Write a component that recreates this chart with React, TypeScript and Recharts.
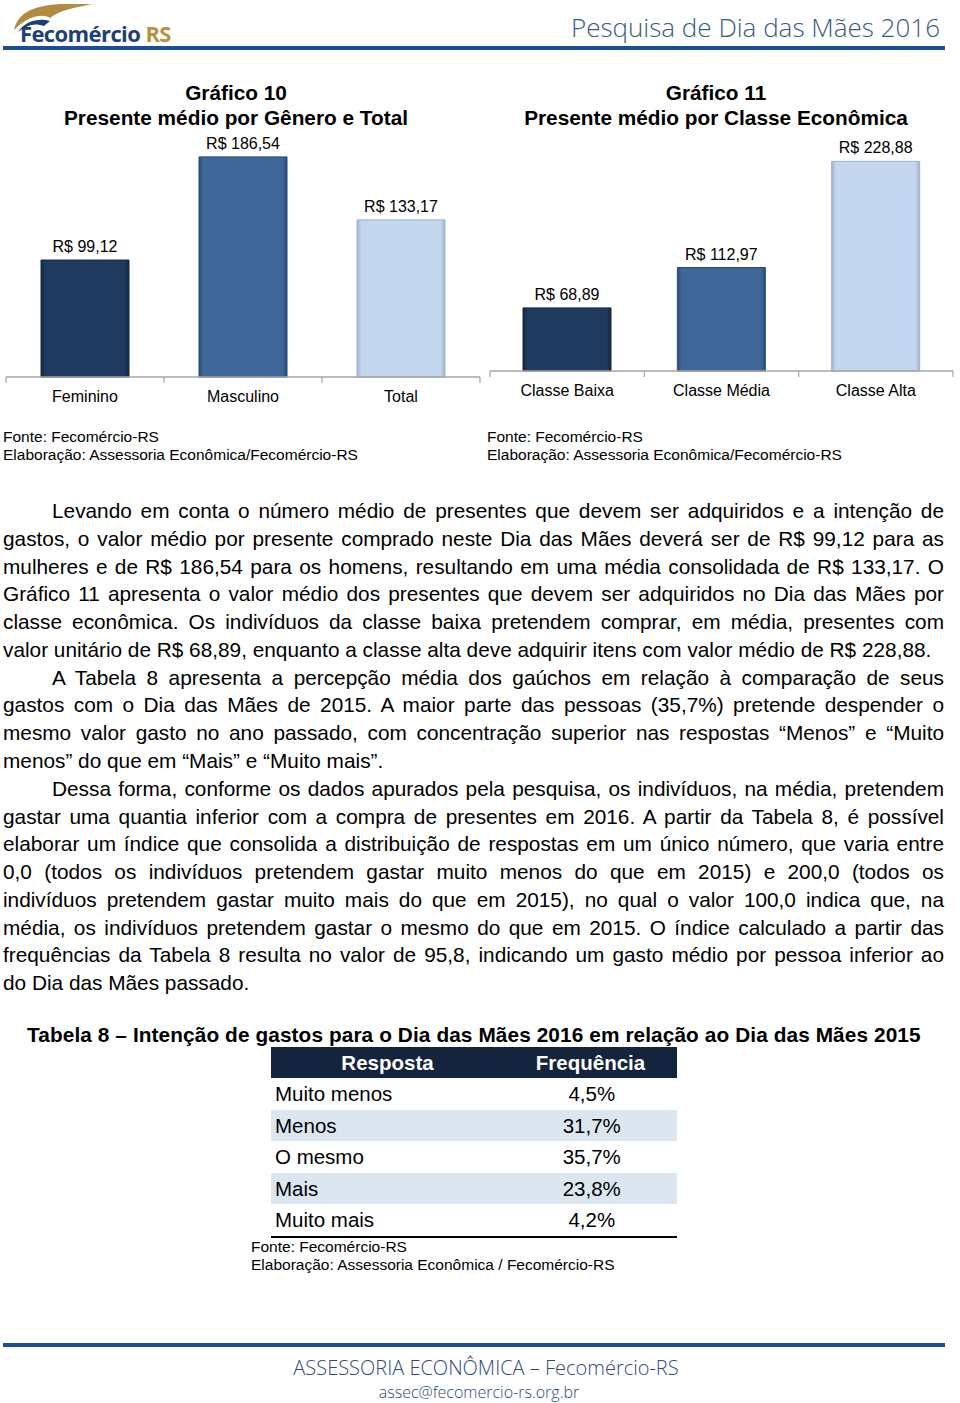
import React from 'react';
import { BarChart, Bar, XAxis, YAxis, Cell, LabelList } from 'recharts';

// Gráfico 10
const generoCategorias = ['Feminino', 'Masculino', 'Total'];
const generoValores = [99.12, 186.54, 133.17];

// Gráfico 11
const classeCategorias = ['Classe Baixa', 'Classe Média', 'Classe Alta'];
const classeValores = [68.89, 112.97, 228.88];

// Tabela 8
const tabelaRespostas = ['Muito menos', 'Menos', 'O mesmo', 'Mais', 'Muito mais'];
const tabelaFrequencias = [4.5, 31.7, 35.7, 23.8, 4.2];

const BAR_COLORS = ['#1f3a5f', '#3e6797', '#c3d6ee'];
const BAR_EDGES = ['#14283f', '#2b4b71', '#9fb3cc'];

const SANS = "'Liberation Sans', Arial, Helvetica, sans-serif";

const paragraphLines = [
  'Levando em conta o número médio de presentes que devem ser adquiridos e a intenção de',
  'gastos, o valor médio por presente comprado neste Dia das Mães deverá ser de R$ 99,12 para as',
  'mulheres e de R$ 186,54 para os homens, resultando em uma média consolidada de R$ 133,17. O',
  'Gráfico 11 apresenta o valor médio dos presentes que devem ser adquiridos no Dia das Mães por',
  'classe econômica. Os indivíduos da classe baixa pretendem comprar, em média, presentes com',
  'valor unitário de R$ 68,89, enquanto a classe alta deve adquirir itens com valor médio de R$ 228,88.',
  'A Tabela 8 apresenta a percepção média dos gaúchos em relação à comparação de seus',
  'gastos com o Dia das Mães de 2015. A maior parte das pessoas (35,7%) pretende despender o',
  'mesmo valor gasto no ano passado, com concentração superior nas respostas “Menos” e “Muito',
  'menos” do que em “Mais” e “Muito mais”.',
  'Dessa forma, conforme os dados apurados pela pesquisa, os indivíduos, na média, pretendem',
  'gastar uma quantia inferior com a compra de presentes em 2016. A partir da Tabela 8, é possível',
  'elaborar um índice que consolida a distribuição de respostas em um único número, que varia entre',
  '0,0 (todos os indivíduos pretendem gastar muito menos do que em 2015) e 200,0 (todos os',
  'indivíduos pretendem gastar muito mais do que em 2015), no qual o valor 100,0 indica que, na',
  'média, os indivíduos pretendem gastar o mesmo do que em 2015. O índice calculado a partir das',
  'frequências da Tabela 8 resulta no valor de 95,8, indicando um gasto médio por pessoa inferior ao',
  'do Dia das Mães passado.',
];
const indentLines = [0, 6, 10];
const lastLines = [5, 9, 17];

const brl = (v: number) => 'R$ ' + v.toFixed(2).replace('.', ',');
const pct = (v: number) => v.toFixed(1).replace('.', ',') + '%';

function BandTick(props: any) {
  const { x, y, payload, index, band, count } = props;
  return (
    <g>
      <line x1={x - band / 2} y1={y} x2={x - band / 2} y2={y + 6} stroke="#a6a6a6" strokeWidth={1.2} />
      {index === count - 1 && (
        <line x1={x + band / 2} y1={y} x2={x + band / 2} y2={y + 6} stroke="#a6a6a6" strokeWidth={1.2} />
      )}
      <text x={x} y={y + 25} textAnchor="middle" fontSize={16} fontFamily={SANS} fill="#000">
        {payload.value}
      </text>
    </g>
  );
}

function BevelDefs({ id }: { id: string }) {
  return (
    <defs>
      {BAR_COLORS.map((c, i) => (
        <linearGradient key={i} id={`${id}-${i}`} x1="0" y1="0" x2="1" y2="0">
          <stop offset="0%" stopColor={BAR_EDGES[i]} />
          <stop offset="5%" stopColor={c} />
          <stop offset="95%" stopColor={c} />
          <stop offset="100%" stopColor={BAR_EDGES[i]} />
        </linearGradient>
      ))}
    </defs>
  );
}

function ValueChart({ id, categorias, valores, width, height, margin, max, band }: any) {
  const data = categorias.map((c: string, i: number) => ({ categoria: c, valor: valores[i] }));
  return (
    <BarChart width={width} height={height} data={data} margin={margin} barCategoryGap={0}>
      <BevelDefs id={id} />
      <XAxis
        dataKey="categoria"
        height={40}
        axisLine={{ stroke: '#a6a6a6', strokeWidth: 1.5 }}
        tickLine={false}
        tickSize={0}
        tickMargin={0}
        interval={0}
        tick={<BandTick band={band} count={categorias.length} />}
      />
      <YAxis hide domain={[0, max]} />
      <Bar dataKey="valor" barSize={88} isAnimationActive={false}>
        {data.map((_: any, i: number) => (
          <Cell key={i} fill={`url(#${id}-${i})`} stroke={BAR_EDGES[i]} strokeWidth={1} />
        ))}
        <LabelList
          dataKey="valor"
          position="top"
          offset={8}
          formatter={(v: any) => brl(Number(v))}
          style={{ fontSize: 16, fontFamily: SANS, fill: '#000' }}
        />
      </Bar>
    </BarChart>
  );
}

const abs = (left: number, top: number, extra: any = {}) => ({ position: 'absolute' as const, left, top, ...extra });

export default function App() {
  const lineH = 27.77;
  return (
    <div style={{ position: 'absolute', left: 0, top: 0, width: 960, height: 1403, background: '#fff', fontFamily: SANS, color: '#000', overflow: 'hidden' }}>
      {/* Cabeçalho */}
      <svg style={abs(4, 2)} width={90} height={30}>
        <path d="M10 28 C14 12 26 4 56 2 L88 2 C70 6 56 8 46 16 C40 12 26 12 10 28 Z" fill="#b08b40" />
        <path d="M14 30 C22 18 36 16 46 19 L40 24 C30 20 22 24 14 30 Z" fill="#1f3f74" />
      </svg>
      <div style={abs(20, 19, { fontSize: 22, fontWeight: 700, letterSpacing: -0.6, fontFamily: "'Open Sans', sans-serif", lineHeight: '28px' })}>
        <span style={{ color: '#1f3f74' }}>Fecomércio</span> <span style={{ color: '#b8913f' }}>RS</span>
      </div>
      <div style={abs(400, 10, { width: 540, textAlign: 'right', fontSize: 26, fontWeight: 300, fontFamily: "'Open Sans', sans-serif", color: '#3b5a82', lineHeight: '34px' })}>
        Pesquisa de Dia das Mães 2016
      </div>
      <div style={abs(3, 46, { width: 942, height: 4, background: '#1c4d9a' })} />

      {/* Títulos dos gráficos */}
      <div style={abs(0, 80, { width: 472, textAlign: 'center', fontSize: 20.8, fontWeight: 700, lineHeight: '25px' })}>
        Gráfico 10<br />Presente médio por Gênero e Total
      </div>
      <div style={abs(480, 80, { width: 472, textAlign: 'center', fontSize: 20.8, fontWeight: 700, lineHeight: '25px' })}>
        Gráfico 11<br />Presente médio por Classe Econômica
      </div>

      {/* Gráfico 10 */}
      <div style={abs(0, 130)}>
        <ValueChart
          id="g10"
          categorias={generoCategorias}
          valores={generoValores}
          width={484}
          height={290}
          margin={{ top: 11, right: 4, bottom: 3, left: 6 }}
          max={200}
          band={158}
        />
      </div>
      {/* Gráfico 11 */}
      <div style={abs(480, 130)}>
        <ValueChart
          id="g11"
          categorias={classeCategorias}
          valores={classeValores}
          width={480}
          height={284}
          margin={{ top: 12, right: 7, bottom: 3, left: 10 }}
          max={250}
          band={154.3}
        />
      </div>

      <div style={abs(3, 428, { fontSize: 15.5, lineHeight: '18px' })}>
        Fonte: Fecomércio-RS<br />Elaboração: Assessoria Econômica/Fecomércio-RS
      </div>
      <div style={abs(487, 428, { fontSize: 15.5, lineHeight: '18px' })}>
        Fonte: Fecomércio-RS<br />Elaboração: Assessoria Econômica/Fecomércio-RS
      </div>

      {/* Texto */}
      <div style={abs(3, 511 - lineH / 2, { width: 941, fontSize: 20.8 })}>
        {paragraphLines.map((t, i) => (
          <div
            key={i}
            style={{
              height: lineH,
              lineHeight: `${lineH}px`,
              paddingLeft: indentLines.includes(i) ? 49 : 0,
              textAlign: 'justify',
              textAlignLast: lastLines.includes(i) ? 'left' : 'justify',
              whiteSpace: 'nowrap',
              overflow: 'visible',
            }}
          >
            {t}
          </div>
        ))}
      </div>

      {/* Tabela 8 */}
      <div style={abs(27, 1021, { fontSize: 20.8, fontWeight: 700, lineHeight: '28px', whiteSpace: 'nowrap', letterSpacing: 0.1 })}>
        Tabela 8 – Intenção de gastos para o Dia das Mães 2016 em relação ao Dia das Mães 2015
      </div>
      <div style={abs(271, 1047, { width: 406 })}>
        <div style={{ display: 'flex', height: 31, background: '#15243d', color: '#fff', fontWeight: 700, fontSize: 20.5, lineHeight: '31px' }}>
          <div style={{ width: 233, textAlign: 'center' }}>Resposta</div>
          <div style={{ width: 173, textAlign: 'center' }}>Frequência</div>
        </div>
        {tabelaRespostas.map((r, i) => (
          <div key={r} style={{ display: 'flex', height: 31.5, background: i % 2 === 1 ? '#dce6f1' : '#fff', fontSize: 20.5, lineHeight: '31.5px' }}>
            <div style={{ width: 233, paddingLeft: 4 }}>{r}</div>
            <div style={{ width: 173, textAlign: 'center', paddingLeft: 2 }}>{pct(tabelaFrequencias[i])}</div>
          </div>
        ))}
        <div style={{ height: 2, background: '#000' }} />
      </div>
      <div style={abs(251, 1238, { fontSize: 15.5, lineHeight: '18px' })}>
        Fonte: Fecomércio-RS<br />Elaboração: Assessoria Econômica / Fecomércio-RS
      </div>

      {/* Rodapé */}
      <div style={abs(3, 1343, { width: 942, height: 4, background: '#1c4d9a' })} />
      <div style={abs(0, 1354, { width: 972, textAlign: 'center', fontSize: 20, fontWeight: 300, fontFamily: "'Open Sans', sans-serif", color: '#2e4a7c', lineHeight: '28px' })}>
        ASSESSORIA ECONÔMICA – Fecomércio-RS
      </div>
      <div style={abs(0, 1381, { width: 958, textAlign: 'center', fontSize: 16, fontWeight: 300, fontFamily: "'Open Sans', sans-serif", color: '#2e4a7c', lineHeight: '22px' })}>
        assec@fecomercio-rs.org.br
      </div>
    </div>
  );
}
